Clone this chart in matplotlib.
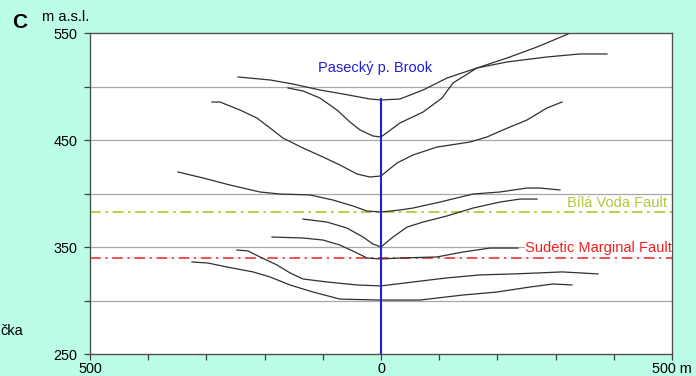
import matplotlib.pyplot as plt

# profile curves (distance from brook in m, elevation in m a.s.l.)
xa = [-245.7, -190.7, -151.2, -104.8, -65.3, -18.9, 0, 32.6, 72.2, 113.4, 164.9, 216.5, 285.2, 341.9, 388.3]
ya = [509.2, 506.4, 502.6, 497, 493.3, 488.6, 487.7, 488.6, 497, 508.2, 517.6, 523.2, 527.9, 530.7, 530.7]

xb = [-159.8, -134, -104.8, -75.6, -53.3, -36.1, -13.7, 0, 32.6, 72.2, 104.8, 123.7, 164.9, 216.5, 268, 321.3]
yb = [498.9, 496.1, 489.5, 478.3, 467.1, 459.7, 454, 453.1, 466.2, 476.4, 489.5, 503.6, 517.6, 526.9, 537.2, 549.3]

xc = [-290.4, -276.6, -242.3, -213.1, -190.7, -168.4, -134, -99.7, -70.4, -41.2, -18.9, 0,
      27.5, 55, 96.2, 152.9, 182.1, 209.6, 250.9, 285.2, 311]
yc = [485.8, 485.8, 478.3, 470.8, 461.5, 452.1, 442.8, 434.4, 426.9, 418.5, 415.7, 416.7,
      428.8, 436.3, 443.7, 448.4, 453.1, 459.7, 469, 480.2, 485.8]

xd = [-348.8, -305.8, -259.5, -207.9, -173.5, -122, -82.5, -48.1, -24.1, 0,
      32.6, 55, 101.4, 158.1, 204.5, 250.9, 273.2, 307.6]
yd = [420.4, 414.8, 408.2, 401.7, 399.8, 398.9, 394.2, 388.6, 383.9, 383,
      384.9, 386.7, 392.3, 399.8, 401.7, 405.4, 405.4, 403.6]

xe = [-134, -92.8, -58.4, -30.9, -13.7, 0, 20.6, 44.7, 72.2, 113.4, 158.1, 204.5, 238.8, 268]
ye = [376.4, 373.6, 368, 359.6, 353.1, 350.3, 359.6, 368.9, 373.6, 379.3, 386.7, 392.3, 395.1, 395.1]

xf = [-187.3, -134, -99.7, -70.4, -41.2, -24.1, 0, 32.6, 96.2, 140.9, 187.3, 235.4]
yf = [359.6, 358.7, 356.8, 352.1, 344.7, 340, 339.1, 340, 341, 345.6, 349.3, 349.3]

xg = [-247.4, -228.5, -207.9, -178.7, -156.4, -134, -92.8, -41.2, 0,
      55, 113.4, 170.1, 226.8, 273.2, 311, 341.9, 372.9]
yg = [347.5, 346.6, 341, 333.5, 326.1, 320.4, 317.6, 314.8, 313.9,
      317.6, 321.4, 324.2, 325.1, 326.1, 327, 326.1, 325.1]

xh = [-324.7, -297.3, -264.6, -219.9, -190.7, -156.4, -116.8, -70.4, 0,
      67, 96.2, 140.9, 199.3, 256, 295.5, 328.2]
yh = [336.3, 335.3, 331.6, 327, 322.3, 314.8, 308.2, 301.6, 300.7,
      300.7, 302.6, 305.4, 308.2, 312.9, 315.7, 314.8]

profiles = [(xa, ya), (xb, yb), (xc, yc), (xd, yd), (xe, ye), (xf, yf), (xg, yg), (xh, yh)]

brook_top = 488.5
bila_voda = 382.7
sudetic = 340

xticks = [-500, -400, -300, -200, -100, 0, 100, 200, 300, 400, 500]
xticklabels = ["500", "", "", "", "", "0", "", "", "", "", "500 m"]
yticks = [250, 300, 350, 400, 450, 500, 550]
yticklabels = ["250", "", "350", "", "450", "", "550"]

plt.rcParams['font.family'] = ['Liberation Sans', 'DejaVu Sans']

bg = "#bcfde6"
fig = plt.figure(figsize=(6.96, 3.76), dpi=100, facecolor=bg)
ax = fig.add_axes([0.1293, 0.0577, 0.8362, 0.8537])
ax.set_facecolor("white")

for y in [300, 350, 400, 450, 500]:
    ax.axhline(y, color="#a8a8a8", lw=0.9, zorder=1)

for x, y in profiles:
    ax.plot(x, y, color="#303030", lw=0.9, zorder=3)

# faults
green = "#b0ca3a"
red = "#f02020"
ax.axhline(bila_voda, color=green, lw=1.3, ls=(0, (6, 2.5, 1.5, 2.5)), zorder=2)
ax.axhline(sudetic, color=red, lw=1.1, ls=(0, (7, 3, 1.5, 3)), zorder=2)
ax.text(491, 391, "Bílá Voda Fault", color=green, fontsize=10.5, ha="right", va="center", zorder=4)
ax.text(500, 349.3, "Sudetic Marginal Fault", color=red, fontsize=10.5, ha="right", va="center",
        zorder=4, bbox=dict(facecolor="white", edgecolor="none", pad=0.3))

# brook
ax.plot([0, 0], [250, brook_top], color="#2020d8", lw=1.5, zorder=5)
ax.text(-10, 517.6, "Pasecký p. Brook", color="#2020d8", fontsize=10.5, ha="center", va="center")

ax.set_xlim(-500, 500)
ax.set_ylim(250, 550)
ax.set_xticks(xticks)
ax.set_xticklabels(xticklabels)
ax.set_yticks(yticks)
ax.set_yticklabels(yticklabels)
ax.tick_params(direction="out", length=4, width=0.9, color="#404040", labelsize=10.4)
ax.tick_params(axis="x", pad=1.5)
ax.tick_params(axis="y", pad=5)
for s in ax.spines.values():
    s.set_color("#505050")
    s.set_linewidth(1)

fig.text(20 / 696, 1 - 22 / 376, "C", fontsize=15, fontweight="bold", ha="center", va="center")
fig.text(66 / 696, 1 - 17 / 376, "m a.s.l.", fontsize=10.5, ha="center", va="center")
fig.text(0, 1 - 331 / 376, "čka", fontsize=10.5, ha="left", va="center")

fig.savefig("out.png", dpi=100, facecolor=bg)
